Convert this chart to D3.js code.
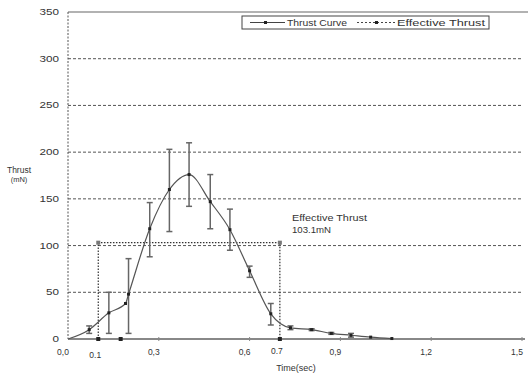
<!DOCTYPE html>
<html><head><meta charset="utf-8">
<script src="https://cdn.jsdelivr.net/npm/d3@7"></script>
<style>
body{margin:0;background:#fff;}
svg{display:block;font-family:"Liberation Sans",Arial,sans-serif;}
</style></head>
<body><svg id="c" width="530" height="375"></svg>
<script>
// ---- data ----
const timeSec   = [0, 0.07, 0.135, 0.19, 0.2, 0.27, 0.335, 0.40, 0.47, 0.535, 0.60, 0.67, 0.735, 0.805, 0.87, 0.935, 1.0, 1.07];
const thrustMN  = [0, 10, 28, 38, 48, 118, 160, 176, 147, 117, 73, 27, 12, 10, 6, 4, 2, 0.5];
const errLow    = [null, 6, 6, null, 6, 88, 115, 142, 118, 95, 66, 15, 10, 9, 5, 2, null, null];
const errHigh   = [null, 14, 50, null, 86, 146, 203, 210, 176, 139, 78, 38, 14, 11, 7, 6, null, null];
const effTime   = [0.1, 0.1, 0.7, 0.7];
const effThrust = [0, 103.1, 103.1, 0];
const yTicks    = [0, 50, 100, 150, 200, 250, 300, 350];
const xTickVals = [0, 0.3, 0.6, 0.9, 1.2, 1.5];
const xTickText = ["0,0", "0,3", "0,6", "0,9", "1,2", "1,5"];
const xExtraVals = [0.1, 0.7];
const xExtraText = ["0.1", "0.7"];
const baseMarks = [0.174];

const svg = d3.select("#c");
const x = d3.scaleLinear().domain([0, 1.5]).range([68, 522]);
const y = d3.scaleLinear().domain([0, 350]).range([339, 12]);

// grid lines
svg.append("g").selectAll("line").data(yTicks.filter(v => v > 0 && v < 350)).join("line")
  .attr("x1", x(0)).attr("x2", x(1.5)).attr("y1", d => y(d)).attr("y2", d => y(d))
  .attr("stroke", "#555").attr("stroke-width", 1).attr("stroke-dasharray", "3,2");
// top line
svg.append("line").attr("x1", x(0)).attr("x2", 528).attr("y1", y(350)).attr("y2", y(350))
  .attr("stroke", "#999").attr("stroke-width", 1.5);
// left dashed axis
svg.append("line").attr("x1", x(0)).attr("x2", x(0)).attr("y1", y(350)).attr("y2", y(0))
  .attr("stroke", "#555").attr("stroke-width", 1).attr("stroke-dasharray", "2,1.5");

// y tick labels
svg.append("g").selectAll("text").data(yTicks).join("text")
  .attr("x", 59).attr("y", d => y(d) + 3).attr("text-anchor", "end")
  .attr("font-size", 8.5).attr("fill", "#333").text(d => d)
  .attr("textLength", d => String(d).length * 6.5).attr("lengthAdjust", "spacingAndGlyphs");

// x tick labels
svg.append("g").selectAll("text").data(xTickVals).join("text")
  .attr("x", d => x(d) - 5).attr("y", 355).attr("text-anchor", "middle")
  .attr("font-size", 8.5).attr("fill", "#333").text((d, i) => xTickText[i]);
svg.append("g").selectAll("text").data(xExtraVals).join("text")
  .attr("x", d => x(d) - 3).attr("y", (d, i) => i === 0 ? 358 : 354).attr("text-anchor", "middle")
  .attr("font-size", 8.5).attr("fill", "#333").text((d, i) => xExtraText[i]);

// axis titles
svg.append("text").attr("x", 19).attr("y", 173).attr("text-anchor", "middle")
  .attr("font-size", 8.5).attr("fill", "#333").text("Thrust");
svg.append("text").attr("x", 19).attr("y", 182).attr("text-anchor", "middle")
  .attr("font-size", 7.5).attr("fill", "#333").text("(mN)");
svg.append("text").attr("x", 296).attr("y", 371).attr("text-anchor", "middle")
  .attr("font-size", 9).attr("fill", "#333").text("Time(sec)");

// baseline
svg.append("line").attr("x1", x(0)).attr("x2", 525).attr("y1", y(0)).attr("y2", y(0))
  .attr("stroke", "#888").attr("stroke-width", 2);
svg.append("g").selectAll("line").data(xTickVals.slice(1)).join("line")
  .attr("x1", d => x(d)).attr("x2", d => x(d)).attr("y1", y(0) - 2).attr("y2", y(0) + 2)
  .attr("stroke", "#888").attr("stroke-width", 1);
svg.append("g").selectAll("rect").data(baseMarks).join("rect")
  .attr("x", d => x(d) - 2).attr("y", y(0) - 2).attr("width", 4).attr("height", 4).attr("fill", "#222");

// effective thrust
const effData = effTime.map((t, i) => [t, effThrust[i]]);
svg.append("path").datum(effData)
  .attr("d", d3.line().x(d => x(d[0])).y(d => y(d[1])))
  .attr("fill", "none").attr("stroke", "#333").attr("stroke-width", 1.2).attr("stroke-dasharray", "1.5,1.5");
svg.append("g").selectAll("rect").data(effData).join("rect")
  .attr("x", d => x(d[0]) - 2).attr("y", d => y(d[1]) - 2).attr("width", 4).attr("height", 4)
  .attr("fill", d => d[1] > 0 ? "#777" : "#222");

// error bars
const eb = timeSec.map((t, i) => ({t, lo: errLow[i], hi: errHigh[i]})).filter(d => d.lo !== null);
const ge = svg.append("g").attr("stroke", "#666").attr("stroke-width", 1.5);
ge.selectAll("line.v").data(eb).join("line").attr("class", "v")
  .attr("x1", d => x(d.t)).attr("x2", d => x(d.t)).attr("y1", d => y(d.lo)).attr("y2", d => y(d.hi));
ge.selectAll("line.t").data(eb).join("line").attr("class", "t")
  .attr("x1", d => x(d.t) - 3).attr("x2", d => x(d.t) + 3).attr("y1", d => y(d.hi)).attr("y2", d => y(d.hi));
ge.selectAll("line.b").data(eb).join("line").attr("class", "b")
  .attr("x1", d => x(d.t) - 3).attr("x2", d => x(d.t) + 3).attr("y1", d => y(d.lo)).attr("y2", d => y(d.lo));

// thrust curve
const curveData = timeSec.map((t, i) => [t, thrustMN[i]]);
svg.append("path").datum(curveData)
  .attr("d", d3.line().x(d => x(d[0])).y(d => y(d[1])).curve(d3.curveMonotoneX))
  .attr("fill", "none").attr("stroke", "#555").attr("stroke-width", 1.2);
svg.append("g").selectAll("rect").data(curveData.filter((d, i) => i > 0)).join("rect")
  .attr("x", d => x(d[0]) - 1.5).attr("y", d => y(d[1]) - 1.5).attr("width", 3).attr("height", 3).attr("fill", "#222");

// legend
const lg = svg.append("g");
lg.append("rect").attr("x", 242).attr("y", 16).attr("width", 247).attr("height", 13)
  .attr("fill", "#fff").attr("stroke", "#444").attr("stroke-width", 1);
lg.append("line").attr("x1", 250).attr("x2", 285).attr("y1", 22.5).attr("y2", 22.5).attr("stroke", "#444").attr("stroke-width", 1.2);
lg.append("rect").attr("x", 264).attr("y", 21).attr("width", 3).attr("height", 3).attr("fill", "#222");
lg.append("text").attr("x", 287).attr("y", 26).attr("font-size", 9).attr("fill", "#333").text("Thrust Curve")
  .attr("textLength", 60).attr("lengthAdjust", "spacingAndGlyphs");
lg.append("line").attr("x1", 357).attr("x2", 395).attr("y1", 22.5).attr("y2", 22.5).attr("stroke", "#444").attr("stroke-width", 1.2).attr("stroke-dasharray", "2,2");
lg.append("rect").attr("x", 375).attr("y", 21).attr("width", 3).attr("height", 3).attr("fill", "#222");
lg.append("text").attr("x", 397).attr("y", 26).attr("font-size", 9).attr("fill", "#333").text("Effective Thrust")
  .attr("textLength", 88).attr("lengthAdjust", "spacingAndGlyphs");

// annotation
svg.append("text").attr("x", 292).attr("y", 221).attr("font-size", 9.5).attr("fill", "#333").text("Effective Thrust")
  .attr("textLength", 75).attr("lengthAdjust", "spacingAndGlyphs");
svg.append("text").attr("x", 292).attr("y", 233).attr("font-size", 9.5).attr("fill", "#333").text("103.1mN")
  .attr("textLength", 39).attr("lengthAdjust", "spacingAndGlyphs");
</script></body></html>
